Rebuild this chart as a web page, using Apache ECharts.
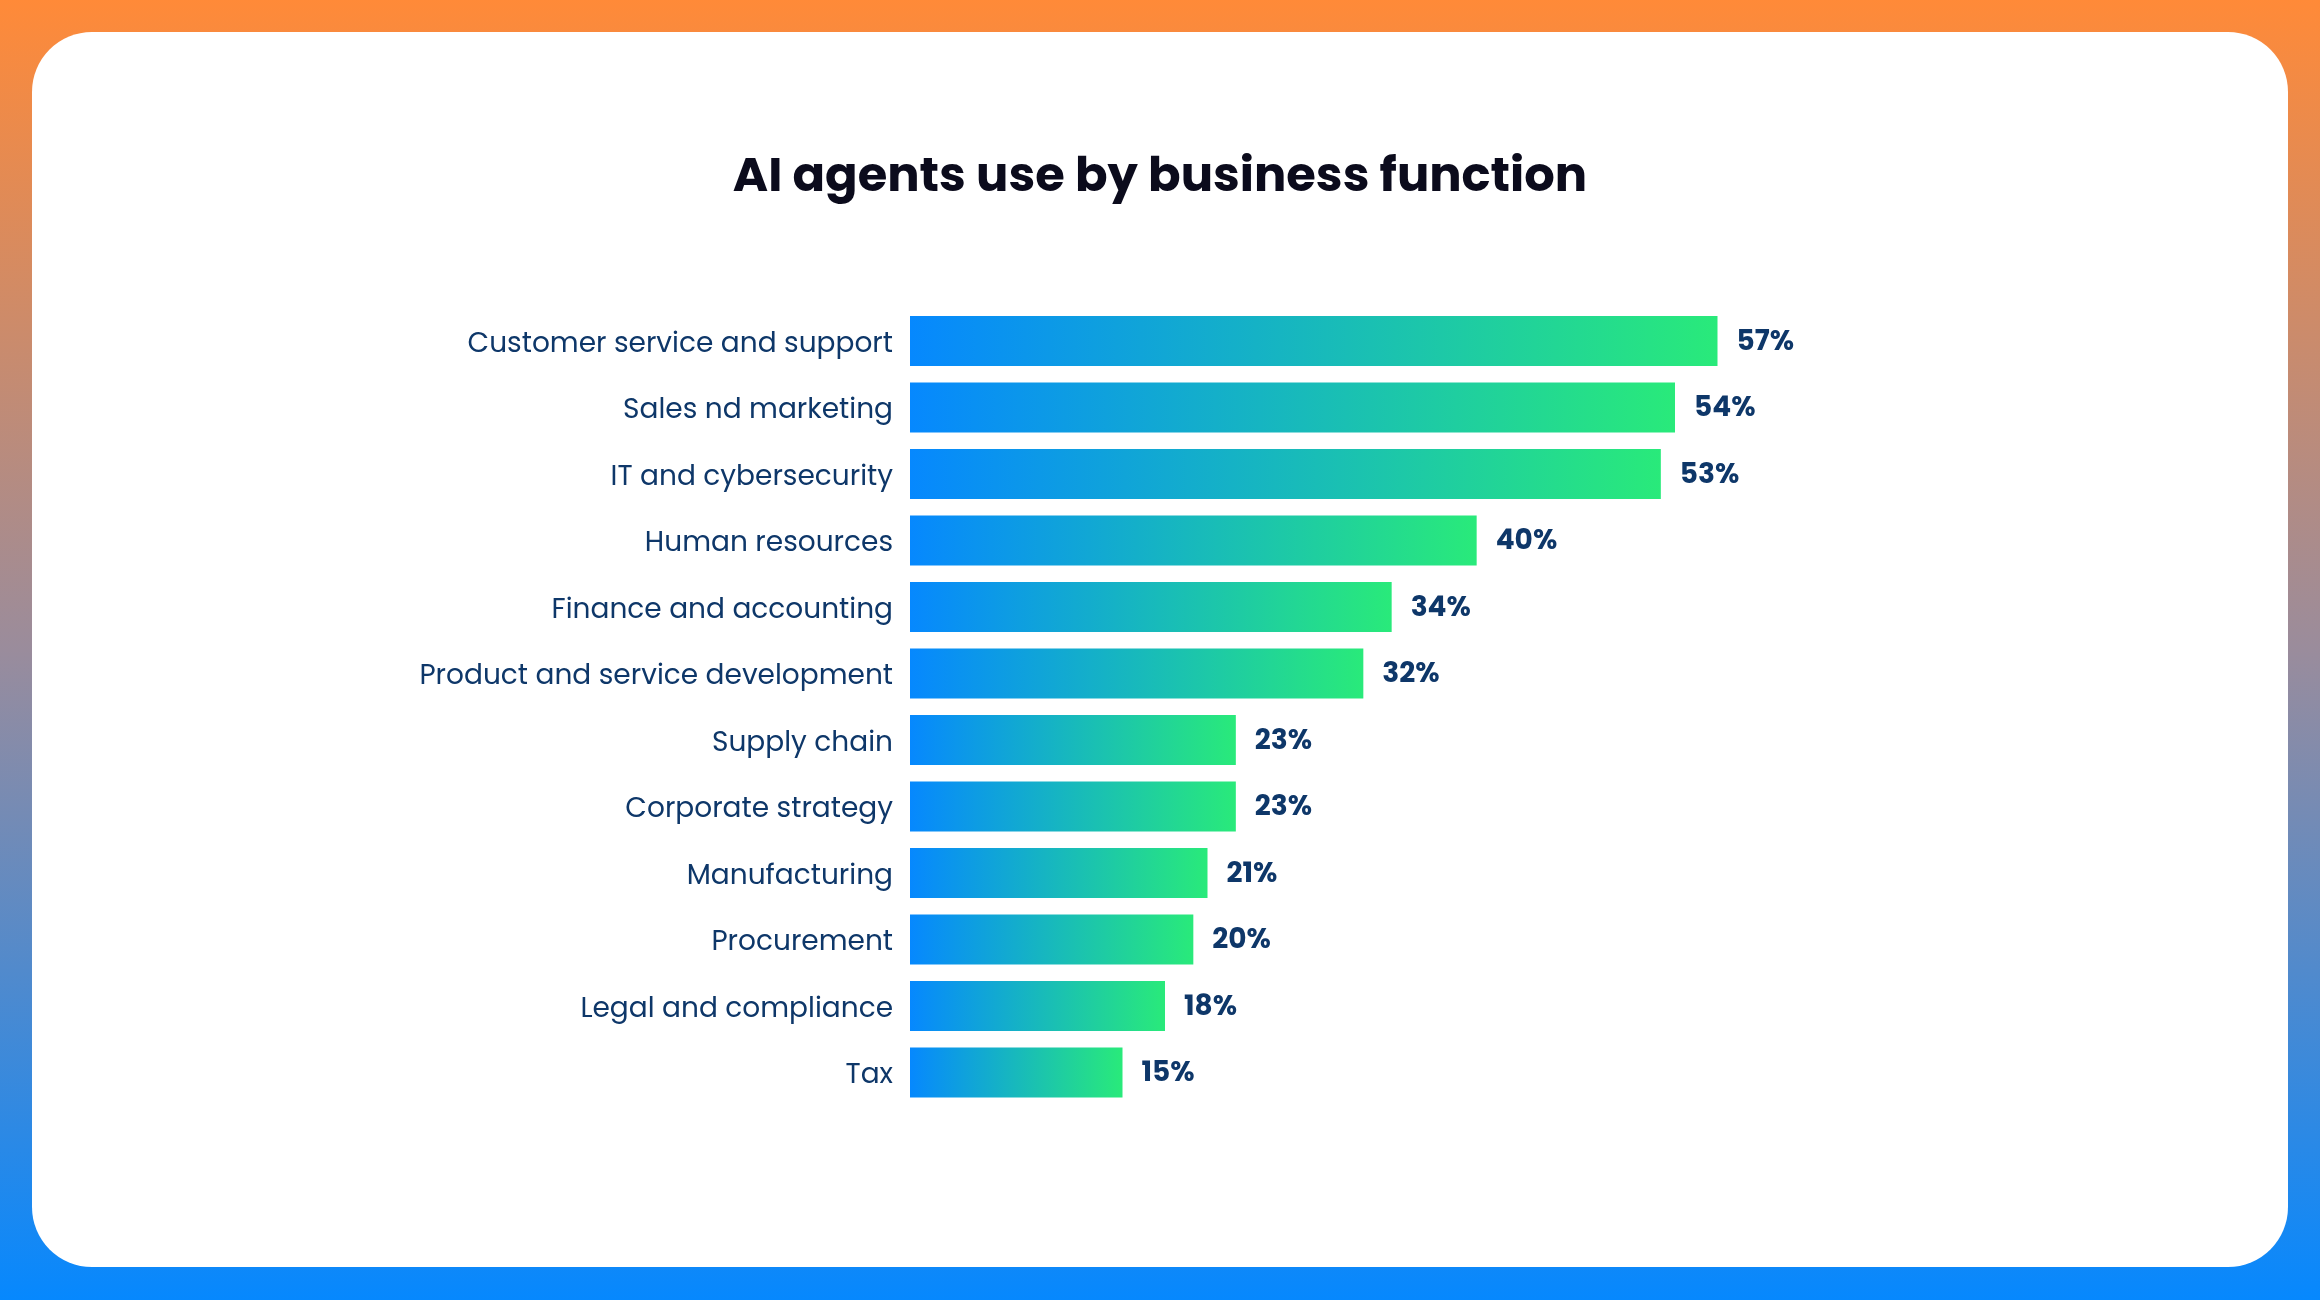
<!DOCTYPE html>
<html>
<head>
<meta charset="utf-8">
<script src="https://cdn.jsdelivr.net/npm/echarts@6/dist/echarts.min.js"></script>
<style>
html,body{margin:0;padding:0;width:2320px;height:1300px;overflow:hidden;}
#main{width:2320px;height:1300px;}
</style>
</head>
<body>
<div id="main"></div>
<script>
const titleText = 'AI agents use by business function';
const categories = [
  'Customer service and support',
  'Sales nd marketing',
  'IT and cybersecurity',
  'Human resources',
  'Finance and accounting',
  'Product and service development',
  'Supply chain',
  'Corporate strategy',
  'Manufacturing',
  'Procurement',
  'Legal and compliance',
  'Tax'
];
const values = [57, 54, 53, 40, 34, 32, 23, 23, 21, 20, 18, 15];

const FONT = 'Poppins, Inter, "Open Sans", sans-serif';
const chart = echarts.init(document.getElementById('main'), null, {renderer: 'canvas'});
chart.setOption({
  animation: false,
  graphic: [
    {type: 'rect', z: -10, silent: true, shape: {x: 0, y: 0, width: 2320, height: 1300},
     style: {fill: new echarts.graphic.LinearGradient(0, 0, 0, 1, [
       {offset: 0, color: '#FF8A38'},
       {offset: 0.5, color: '#9A8C9C'},
       {offset: 1, color: '#0688FE'}
     ])}},
    {type: 'rect', z: -9, silent: true, shape: {x: 32, y: 32, width: 2256, height: 1235, r: 60},
     style: {fill: '#ffffff'}}
  ],
  title: {
    text: titleText,
    left: 'center',
    top: 150,
    textStyle: {fontFamily: FONT, fontWeight: 'bold', fontSize: 48, color: '#0B0B1C'}
  },
  grid: {left: 910, top: 307.75, height: 798, width: 850, containLabel: false},
  xAxis: {type: 'value', min: 0, max: 60, show: false},
  yAxis: {
    type: 'category',
    data: categories,
    inverse: true,
    axisLine: {show: false},
    axisTick: {show: false},
    axisLabel: {
      margin: 17,
      formatter: '{a|{value}}',
      rich: {a: {padding: [7, 0, 0, 0], fontFamily: FONT, fontSize: 28, color: '#0E3769'}},
      fontFamily: FONT, fontSize: 28, color: '#0E3769'
    }
  },
  series: [{
    type: 'bar',
    data: values,
    barWidth: 50,
    itemStyle: {
      color: new echarts.graphic.LinearGradient(0, 0, 1, 0, [
        {offset: 0, color: '#0688FE'},
        {offset: 1, color: '#29EA7A'}
      ])
    },
    label: {
      show: true,
      position: 'right',
      distance: 19,
      offset: [0, 1.5],
      formatter: '{c}%',
      fontFamily: FONT,
      fontWeight: 'bold',
      fontSize: 28,
      color: '#0E3769'
    }
  }]
});
</script>
</body>
</html>
